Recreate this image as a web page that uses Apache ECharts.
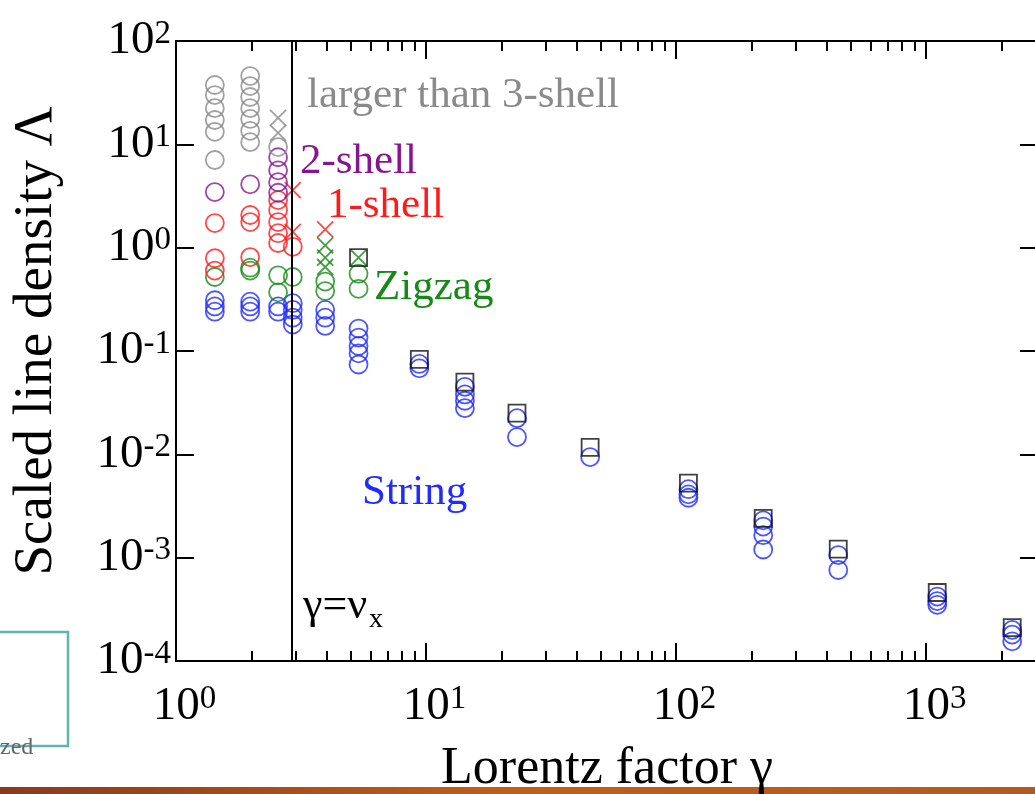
<!DOCTYPE html>
<html lang="en">
<head>
    <meta charset="UTF-8">
    <title>Scaled line density</title>
    <script src="https://cdn.jsdelivr.net/npm/echarts@6/dist/echarts.min.js"></script>
    <style type="text/css">
        html, body {
            margin: 0;
            height: 100%;
            background-color: #fff;
        }
        #chart {
            width: 1035px;
            height: 794px;
        }
    </style>
</head>
<body>
    <div id="chart"></div>
    <script type="text/javascript">
        // tick values
        var xMajor = [1, 10, 100, 1000];
        var xMinor = [2, 3, 4, 5, 6, 7, 8, 9, 20, 30, 40, 50, 60, 70, 80, 90,
                      200, 300, 400, 500, 600, 700, 800, 900, 2000];
        var yMajor = [1e-4, 1e-3, 1e-2, 1e-1, 1, 10, 100];

        // gamma = nu_x line
        var nuX = 2.91;

        // [Lorentz factor, scaled line density]
        var grayCircles = [
            [1.43, 37.5], [1.43, 30], [1.43, 22.4], [1.43, 17.2], [1.43, 13.2], [1.43, 7.05],
            [1.98, 45.8], [1.98, 36.6], [1.98, 28.7], [1.98, 22.4], [1.98, 17.6], [1.98, 13.5], [1.98, 10.5],
            [2.56, 9.4]
        ];
        var grayCrosses = [[2.56, 18], [2.56, 12.9]];

        var purpleCircles = [
            [1.43, 3.45], [1.98, 4.1],
            [2.56, 7.5], [2.56, 5.6], [2.56, 4.3], [2.56, 3.4]
        ];

        var redCircles = [
            [1.43, 1.73], [1.43, 0.79], [1.43, 0.6],
            [1.98, 2.07], [1.98, 1.77], [1.98, 0.81],
            [2.56, 2.89], [2.56, 2.31], [2.56, 1.77], [2.56, 1.38], [2.56, 1.11],
            [2.93, 1.02]
        ];
        var redCrosses = [[2.93, 3.6], [2.93, 1.42], [3.95, 1.5]];

        var greenCircles = [
            [1.43, 0.52],
            [1.98, 0.64], [1.98, 0.6],
            [2.56, 0.54], [2.56, 0.37],
            [2.93, 0.52],
            [3.95, 0.47], [3.95, 0.38],
            [5.37, 0.56], [5.37, 0.4]
        ];
        var greenCrosses = [[3.95, 1.05], [3.95, 0.8], [3.95, 0.65], [5.37, 0.8]];

        var blueCircles = [
            [1.43, 0.31], [1.43, 0.27], [1.43, 0.24],
            [1.98, 0.3], [1.98, 0.27], [1.98, 0.24],
            [2.56, 0.27], [2.56, 0.24],
            [2.93, 0.29], [2.93, 0.25], [2.93, 0.21], [2.93, 0.18],
            [3.95, 0.25], [3.95, 0.21], [3.95, 0.175],
            [5.37, 0.165], [5.37, 0.135], [5.37, 0.112], [5.37, 0.095], [5.37, 0.074],
            [9.4, 0.075], [9.4, 0.068],
            [14.3, 0.045], [14.3, 0.038], [14.3, 0.033], [14.3, 0.028],
            [23.1, 0.0224], [23.1, 0.0147],
            [45.3, 0.0094],
            [112, 0.0046], [112, 0.0041], [112, 0.0038],
            [223, 0.0023], [223, 0.002], [223, 0.00165], [223, 0.0012],
            [445, 0.00106], [445, 0.00076],
            [1107, 0.00042], [1107, 0.00038], [1107, 0.00035],
            [2208, 0.0002], [2208, 0.00018], [2208, 0.000155]
        ];

        var blackSquares = [
            [5.37, 0.8], [9.4, 0.083], [14.3, 0.05], [23.1, 0.025], [45.3, 0.0117],
            [112, 0.00526], [223, 0.0024], [445, 0.00121], [1107, 0.00046], [2208, 0.00021]
        ];

        var serif = '"Liberation Serif", "Times New Roman", serif';
        var crossPath = 'path://M0,0L20,20M20,0L0,20';

        function powLabel(v) {
            var e = Math.round(Math.log10(v));
            return '{b|10}{s|' + e + '}';
        }
        var powRich = {
            b: { fontFamily: serif, fontSize: 47, color: '#000' },
            s: { fontFamily: serif, fontSize: 33, color: '#000', verticalAlign: 'top' }
        };

        function markSeries(name, data, symbol, color, size) {
            return {
                name: name,
                type: 'scatter',
                data: data,
                symbol: symbol,
                symbolSize: size,
                itemStyle: {
                    color: 'transparent',
                    borderColor: color,
                    borderWidth: 1.8
                },
                silent: true
            };
        }

        var chartDom = document.getElementById('chart');
        var myChart = echarts.init(chartDom);
        var option;

        var frameLine = { lineStyle: { color: '#000', width: 2 } };

        option = {
            animation: false,
            backgroundColor: '#fff',
            grid: {
                left: 176,
                top: 41,
                width: 862,
                height: 620,
                outerBoundsMode: 'none'
            },
            xAxis: [
                {
                    type: 'log', min: 1, max: 2800, position: 'bottom',
                    axisLine: frameLine,
                    axisTick: { inside: true, length: 18, customValues: xMajor, lineStyle: { color: '#000', width: 2 } },
                    axisLabel: {
                        customValues: xMajor, formatter: powLabel, rich: powRich,
                        margin: 22, padding: [0, 0, 0, 17]
                    },
                    splitLine: { show: false },
                    name: 'Lorentz factor γ',
                    nameLocation: 'middle',
                    nameGap: 82,
                    nameTextStyle: { fontFamily: serif, fontSize: 52, color: '#000' }
                },
                {
                    type: 'log', min: 1, max: 2800, position: 'bottom',
                    axisLine: { show: false },
                    axisTick: { inside: true, length: 10, customValues: xMinor, lineStyle: { color: '#000', width: 2 } },
                    axisLabel: { show: false },
                    splitLine: { show: false }
                },
                {
                    type: 'log', min: 1, max: 2800, position: 'top',
                    axisLine: frameLine,
                    axisTick: { inside: true, length: 18, customValues: xMajor, lineStyle: { color: '#000', width: 2 } },
                    axisLabel: { show: false },
                    splitLine: { show: false }
                },
                {
                    type: 'log', min: 1, max: 2800, position: 'top',
                    axisLine: { show: false },
                    axisTick: { inside: true, length: 10, customValues: xMinor, lineStyle: { color: '#000', width: 2 } },
                    axisLabel: { show: false },
                    splitLine: { show: false }
                }
            ],
            yAxis: [
                {
                    type: 'log', min: 1e-4, max: 100, position: 'left',
                    axisLine: frameLine,
                    axisTick: { inside: true, length: 18, customValues: yMajor, lineStyle: { color: '#000', width: 2 } },
                    axisLabel: { customValues: yMajor, formatter: powLabel, rich: powRich, margin: 5 },
                    splitLine: { show: false },
                    name: 'Scaled line density Λ',
                    nameLocation: 'middle',
                    nameRotate: 90,
                    nameGap: 112,
                    nameTextStyle: { fontFamily: serif, fontSize: 55, color: '#000', padding: [0, 0, 0, 20] }
                },
                {
                    type: 'log', min: 1e-4, max: 100, position: 'right',
                    axisLine: frameLine,
                    axisTick: { inside: true, length: 18, customValues: yMajor, lineStyle: { color: '#000', width: 2 } },
                    axisLabel: { show: false },
                    splitLine: { show: false }
                }
            ],
            series: [
                markSeries('String', blueCircles, 'circle', '#1f2bff', 18),
                markSeries('Zigzag', greenCircles, 'circle', '#168a16', 18),
                markSeries('Zigzag x', greenCrosses, crossPath, '#168a16', 16),
                markSeries('1-shell', redCircles, 'circle', '#ff1a1a', 18),
                markSeries('1-shell x', redCrosses, crossPath, '#ff1a1a', 16),
                markSeries('2-shell', purpleCircles, 'circle', '#86168f', 18),
                markSeries('3-shell', grayCircles, 'circle', '#8a8a8a', 18),
                markSeries('3-shell x', grayCrosses, crossPath, '#8a8a8a', 16),
                Object.assign(markSeries('squares', blackSquares, 'rect', '#111', 17), {
                    markLine: {
                        silent: true,
                        symbol: 'none',
                        label: { show: false },
                        lineStyle: { color: '#000', width: 2, type: 'solid' },
                        data: [{ xAxis: nuX }]
                    }
                })
            ],
            graphic: [
                { type: 'text', style: { text: 'larger than 3-shell', x: 307, y: 96, verticalAlign: 'middle', font: '43px ' + serif, fill: '#8a8a8a' } },
                { type: 'text', style: { text: '2-shell', x: 300, y: 162, verticalAlign: 'middle', font: '43px ' + serif, fill: '#86168f' } },
                { type: 'text', style: { text: '1-shell', x: 327, y: 206, verticalAlign: 'middle', font: '43px ' + serif, fill: '#ff1a1a' } },
                { type: 'text', style: { text: 'Zigzag', x: 374, y: 288, verticalAlign: 'middle', font: '43px ' + serif, fill: '#168a16' } },
                { type: 'text', style: { text: 'String', x: 362, y: 493, verticalAlign: 'middle', font: '43px ' + serif, fill: '#1f2bff' } },
                { type: 'text', style: { text: 'γ=ν', x: 303, y: 606, verticalAlign: 'middle', font: '44px ' + serif, fill: '#000' } },
                { type: 'text', style: { text: 'x', x: 369, y: 620, verticalAlign: 'middle', font: '28px ' + serif, fill: '#000' } },
                // stray box from the page next to the chart
                { type: 'rect', shape: { x: -4, y: 632, width: 72, height: 114 }, style: { fill: 'none', stroke: '#5fb3b3', lineWidth: 2.5 } },
                { type: 'text', style: { text: 'zed', x: 0, y: 748, verticalAlign: 'middle', font: '24px ' + serif, fill: '#666' } },
                {
                    type: 'rect', shape: { x: 0, y: 787, width: 1035, height: 7 },
                    style: {
                        fill: new echarts.graphic.LinearGradient(0, 0, 1, 0, [
                            { offset: 0, color: '#8a3a1c' },
                            { offset: 0.5, color: '#c06018' },
                            { offset: 1, color: '#b05a20' }
                        ])
                    }
                }
            ]
        };

        myChart.setOption(option);
    </script>
</body>
</html>
